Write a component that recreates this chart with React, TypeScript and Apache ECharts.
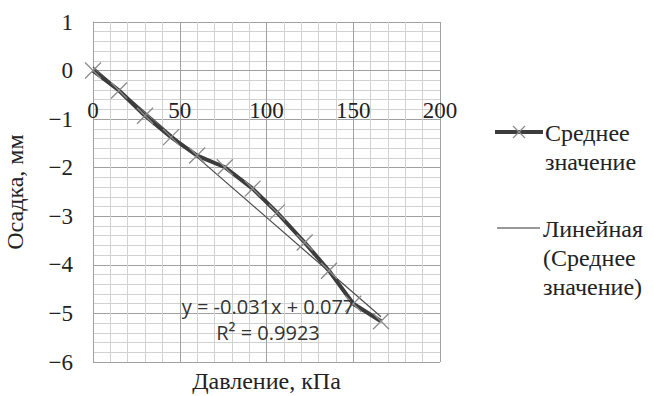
import React, { useEffect, useRef } from "react";
import * as echarts from "echarts";

const pressure = [0, 15, 30, 45, 60, 76, 92, 106, 122, 136, 150, 166];
const settlement = [0, -0.41, -0.93, -1.37, -1.75, -1.99, -2.43, -2.92, -3.54, -4.12, -4.8, -5.16];
const trendSlope = -0.031;
const trendIntercept = 0.077;
const trendRange = [0, 166];
const seriesName = "Среднее значение";
const trendName = "Линейная (Среднее значение)";
const equationText = "y = -0.031x + 0.077";
const r2Text = "R² = 0.9923";

export default function App() {
  const ref = useRef<HTMLDivElement>(null);
  useEffect(() => {
    if (!ref.current) return;
    const chart = echarts.init(ref.current, null, { renderer: "svg" });
    const serif = "Liberation Serif";
    const trend = trendRange.map((x) => [x, trendSlope * x + trendIntercept]);
    chart.setOption({
      animation: false,
      backgroundColor: "#fff",
      grid: { left: 93, right: 214, top: 22, bottom: 34, outerBoundsMode: "none", containLabel: false },
      xAxis: {
        type: "value",
        min: 0,
        max: 200,
        interval: 50,
        position: "bottom",
        offset: -292,
        axisLine: { onZero: false, lineStyle: { color: "#a0a0a0" } },
        axisTick: { show: false },
        axisLabel: { margin: 29, color: "#222", fontFamily: serif, fontSize: 23 },
        splitLine: { show: true, lineStyle: { color: "#a0a0a0", width: 1 } },
        minorTick: { show: false, splitNumber: 5 },
        minorSplitLine: { show: true, lineStyle: { color: "#d2d2d2", width: 1 } },
        name: "Давление, кПа",
        nameLocation: "middle",
        nameGap: 299,
        nameTextStyle: { color: "#222", fontFamily: serif, fontSize: 24 },
      },
      yAxis: {
        type: "value",
        min: -6,
        max: 1,
        interval: 1,
        axisLine: { show: true, onZero: false, lineStyle: { color: "#a0a0a0" } },
        axisTick: { show: false },
        axisLabel: {
          margin: 20,
          color: "#222",
          fontFamily: serif,
          fontSize: 23,
          formatter: (v: number) => String(v).replace("-", "−"),
        },
        splitLine: { show: true, lineStyle: { color: "#a0a0a0", width: 1 } },
        minorTick: { show: false, splitNumber: 5 },
        minorSplitLine: { show: true, lineStyle: { color: "#d2d2d2", width: 1 } },
        name: "Осадка, мм",
        nameLocation: "middle",
        nameGap: 66,
        nameTextStyle: { color: "#222", fontFamily: serif, fontSize: 24 },
      },
      series: [
        {
          name: trendName,
          type: "line",
          data: trend,
          showSymbol: false,
          symbol: "none",
          lineStyle: { color: "#4a4a4a", width: 1.2 },
          z: 2,
        },
        {
          name: seriesName,
          type: "line",
          data: pressure.map((x, i) => [x, settlement[i]]),
          symbol: "path://M0 0L10 10M10 0L0 10",
          symbolSize: 16,
          itemStyle: { color: "#8c8c8c", borderColor: "#8c8c8c", borderWidth: 1.3 },
          lineStyle: { color: "#3c3c3c", width: 4 },
          z: 3,
        },
      ],
      graphic: [
        {
          type: "text",
          x: 268,
          y: 306,
          z: 10,
          style: {
            text: equationText,
            fill: "#333",
            fontFamily: "Open Sans",
            fontSize: 20,
            align: "center",
            verticalAlign: "middle",
          },
        },
        {
          type: "text",
          x: 268,
          y: 332,
          z: 10,
          style: {
            text: r2Text,
            fill: "#333",
            fontFamily: "Open Sans",
            fontSize: 20,
            align: "center",
            verticalAlign: "middle",
          },
        },
        {
          type: "line",
          shape: { x1: 495, y1: 132, x2: 543, y2: 132 },
          style: { stroke: "#3c3c3c", lineWidth: 4 },
        },
        {
          type: "line",
          shape: { x1: 513, y1: 126, x2: 525, y2: 138 },
          style: { stroke: "#8c8c8c", lineWidth: 1.3 },
        },
        {
          type: "line",
          shape: { x1: 513, y1: 138, x2: 525, y2: 126 },
          style: { stroke: "#8c8c8c", lineWidth: 1.3 },
        },
        {
          type: "text",
          x: 545,
          y: 118,
          style: {
            text: "Среднее\nзначение",
            fill: "#222",
            fontFamily: serif,
            fontSize: 24,
            lineHeight: 29,
            align: "left",
            verticalAlign: "top",
          },
        },
        {
          type: "line",
          shape: { x1: 497, y1: 228, x2: 540, y2: 228 },
          style: { stroke: "#333", lineWidth: 1.2 },
        },
        {
          type: "text",
          x: 543,
          y: 214,
          style: {
            text: "Линейная\n(Среднее\nзначение)",
            fill: "#222",
            fontFamily: serif,
            fontSize: 24,
            lineHeight: 29,
            align: "left",
            verticalAlign: "top",
          },
        },
      ],
    });
    return () => chart.dispose();
  }, []);
  return <div ref={ref} style={{ width: 654, height: 396, position: "absolute", left: 0, top: 0 }} />;
}
